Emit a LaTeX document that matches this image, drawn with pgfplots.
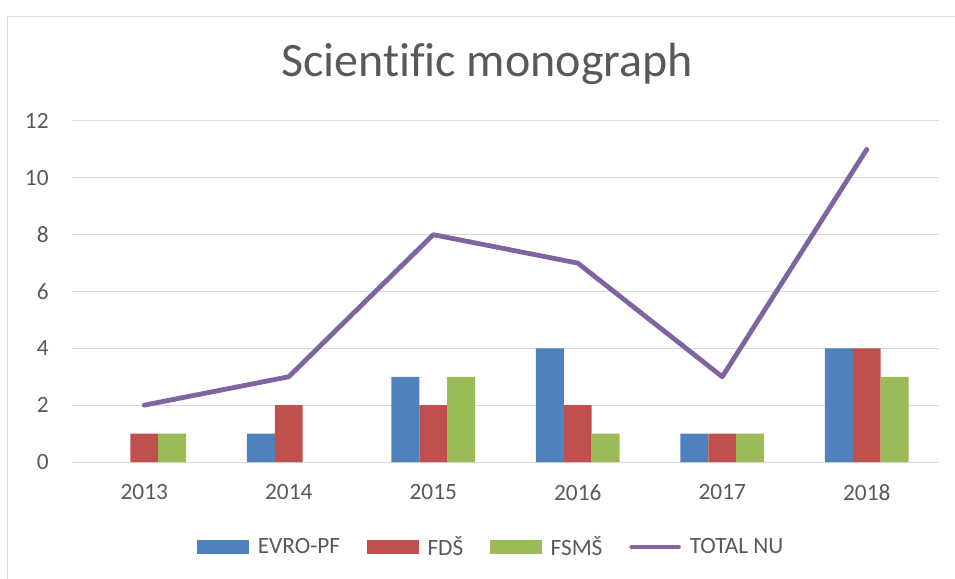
\documentclass[border=0pt]{standalone}
\usepackage{fontspec}
\setmainfont{Carlito}[Ligatures=NoCommon]
\usepackage{pgfplots}
\pgfplotsset{compat=1.18}
\definecolor{evro}{HTML}{4F81BD}
\definecolor{fds}{HTML}{C0504D}
\definecolor{fsms}{HTML}{9BBB59}
\definecolor{total}{HTML}{8064A2}
\definecolor{txt}{HTML}{595959}
\definecolor{gridc}{HTML}{D9D9D9}
\pgfplotsset{
  barlegend/.style={legend image code/.code={\fill[##1] (0pt,-5.25pt) rectangle (39pt,5.25pt);}},
  linelegend/.style={legend image code/.code={%
    \path[draw=none, fill=none] (0pt,-5.25pt) rectangle (39pt,5.25pt);
    \draw[##1] (2pt,0pt) -- (37pt,0pt);}},
}
\begin{document}
\begin{tikzpicture}[x=0.75pt,y=0.75pt]
\useasboundingbox (0,0) rectangle (955,578);
\draw[gridc, line width=0.75pt] (7,-20) -- (7,561.5) -- (970,561.5);
\node[anchor=base, text=txt, font=\fontsize{36}{40}\selectfont] at (487,501) {Scientific monograph};
\begin{axis}[at={(54pt,87pt)}, anchor=south west, scale only axis,
  width=650.25pt, height=255.75pt,
  xmin=-0.5, xmax=5.5, ymin=0, ymax=12,
  xtick={0,1,2,3,4,5}, xticklabels={2013,2014,2015,2016,2017,2018},
  ytick={0,2,4,6,8,10,12},
  /pgf/number format/assume math mode=true,
  ymajorgrids, grid style={gridc, line width=0.75pt},
  axis line style={draw=none}, major tick length=0pt,
  tick label style={text=txt, font=\fontsize{17.5}{20}\selectfont},
  xticklabel style={yshift=-13.5pt},
  yticklabel style={xshift=-14pt},
  bar width=0.193, ybar,
  legend columns=4,
  legend style={at={(rel axis cs:0.484,-0.249)}, anchor=center, draw=none, fill=none,
    font=\fontsize{17.5}{20}\selectfont, text=txt,
    /tikz/every even column/.append style={column sep=18pt},
    /tikz/every odd column/.append style={column sep=4.5pt}},
]
% zero values (EVRO-PF 2013, FSMS 2014) are left out: no bar is drawn for them
\addplot[fill=evro, draw=none, bar shift=-0.193, barlegend] coordinates {(1,1) (2,3) (3,4) (4,1) (5,4)};
\addlegendentry{EVRO-PF}
\addplot[fill=fds, draw=none, bar shift=0, barlegend] coordinates {(0,1) (1,2) (2,2) (3,2) (4,1) (5,4)};
\addlegendentry{FDŠ}
\addplot[fill=fsms, draw=none, bar shift=0.193, barlegend] coordinates {(0,1) (2,3) (3,1) (4,1) (5,3)};
\addlegendentry{FSMŠ}
\addplot[sharp plot, total, line width=3.6pt, line cap=round, line join=round, mark=none, linelegend] coordinates {(0,2) (1,3) (2,8) (3,7) (4,3) (5,11)};
\addlegendentry{TOTAL NU}
\end{axis}
\end{tikzpicture}
\end{document}
